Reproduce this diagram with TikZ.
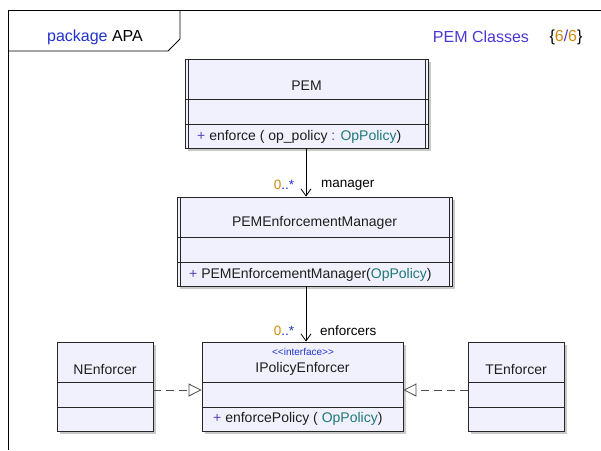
\documentclass[tikz,border=0pt]{standalone}
\usepackage{fontspec}
\setmainfont{Liberation Sans}
\usetikzlibrary{arrows.meta,shadows}
\definecolor{boxfill}{HTML}{F1F1FD}
\definecolor{kwblue}{HTML}{2233CC}
\definecolor{titleblue}{HTML}{4A38D4}
\definecolor{numorange}{HTML}{D08A10}
\definecolor{opteal}{HTML}{1E7878}
\definecolor{plusviolet}{HTML}{5A3EC0}
\definecolor{txtdark}{HTML}{1E1E1E}
\newcommand{\plus}{\textcolor{plusviolet}{+}}
\newcommand{\optype}{\textcolor{opteal}{OpPolicy}}
\newcommand{\mult}{\textcolor{numorange}{0}\textcolor{kwblue}{..*}}
\tikzset{
  classbox/.style={draw=black!85, line width=0.8pt, fill=boxfill, inner sep=0pt,
    drop shadow={shadow xshift=2.5pt, shadow yshift=-2.5pt, fill=black!35, opacity=0.6}},
  sepline/.style={draw=black!85, line width=0.8pt},
  cname/.style={font=\fontsize{14}{16}\selectfont, text=txtdark, inner sep=0pt},
  opname/.style={font=\fontsize{14}{16}\selectfont, text=txtdark, inner sep=0pt, anchor=west},
  stereo/.style={font=\fontsize{10}{11}\selectfont, text=kwblue, inner sep=0pt},
  rolelabel/.style={font=\fontsize{13.5}{15}\selectfont, inner sep=0pt},
  assoc/.style={draw=black, line width=0.8pt, -{Straight Barb[length=7pt,width=10pt]}},
  realize/.style={draw=black!70, line width=0.8pt, dash pattern=on 8pt off 5pt,
    -{Triangle[open,length=13pt,width=13pt,fill=white]}},
}
\begin{document}
\begin{tikzpicture}[x=1pt,y=-1pt]
\useasboundingbox[fill=white] (0,0) rectangle (601,450);

% package frame and tab
\draw[line width=0.8pt] (8,450) -- (8,10) -- (601,10);
\draw[line width=0.8pt] (8,51) -- (168,51) -- (180,39) -- (180,10);
\node[font=\fontsize{16}{18}\selectfont, inner sep=0pt] (pkg) at (95,37)
  {\textcolor{kwblue}{package} APA};
\node[font=\fontsize{16}{18}\selectfont, inner sep=0pt, text=titleblue] (title) at (481,37) {PEM Classes};
\node[font=\fontsize{16}{18}\selectfont, inner sep=0pt] (count) at (566,37)
  {\{\textcolor{numorange}{6}\textcolor{titleblue}{/}\textcolor{numorange}{6}\}};

% PEM (active class)
\node[classbox, minimum width=243pt, minimum height=89pt] (pem) at (306.5,103.5) {};
\draw[sepline] (188,59) -- (188,148) (425,59) -- (425,148);
\draw[sepline] (185,99) -- (428,99) (185,124) -- (428,124);
\node[cname] (pemname) at (306.5,86) {PEM};
\node[opname] (pemop) at (197,137) {\plus{} enforce ( op\_policy \textcolor{plusviolet}{:} \optype)};

% PEMEnforcementManager (active class)
\node[classbox, minimum width=275pt, minimum height=89pt] (mgr) at (314.5,241.5) {};
\draw[sepline] (180,197) -- (180,286) (449,197) -- (449,286);
\draw[sepline] (177,237) -- (452,237) (177,262) -- (452,262);
\node[cname] (mgrname) at (314.5,223) {PEMEnforcementManager};
\node[opname] (mgrop) at (189,275) {\plus{} PEMEnforcementManager(\optype)};

% IPolicyEnforcer interface
\node[classbox, minimum width=201pt, minimum height=89pt] (ipe) at (302.5,386.5) {};
\draw[sepline] (202,382) -- (403,382) (202,407) -- (403,407);
\node[stereo] (ipester) at (303,352) {{<}{<}interface{>}{>}};
\node[cname] (ipename) at (302.5,369) {IPolicyEnforcer};
\node[opname] (ipeop) at (213,419) {\plus{} enforcePolicy ( \optype)};

% NEnforcer
\node[classbox, minimum width=96pt, minimum height=89pt] (nenf) at (105,386.5) {};
\draw[sepline] (57,382) -- (153,382) (57,407) -- (153,407);
\node[cname] (nenfname) at (105,369) {NEnforcer};

% TEnforcer
\node[classbox, minimum width=96pt, minimum height=89pt] (tenf) at (516,386.5) {};
\draw[sepline] (468,382) -- (564,382) (468,407) -- (564,407);
\node[cname] (tenfname) at (516,369) {TEnforcer};

% associations
\draw[assoc] (pem.south -| 306,0) -- (mgr.north -| 306,0);
\node[rolelabel] (m1) at (284,185) {\mult};
\node[rolelabel, anchor=west] (r1) at (321,185) {manager};
\draw[assoc] (mgr.south -| 306,0) -- (ipe.north -| 306,0);
\node[rolelabel] (m2) at (284,331) {\mult};
\node[rolelabel, anchor=west] (r2) at (320,331) {enforcers};

% realizations
\draw[realize] (nenf.east |- 0,390) -- (ipe.west |- 0,390);
\draw[realize] (tenf.west |- 0,390) -- (ipe.east |- 0,390);
\end{tikzpicture}
\end{document}
